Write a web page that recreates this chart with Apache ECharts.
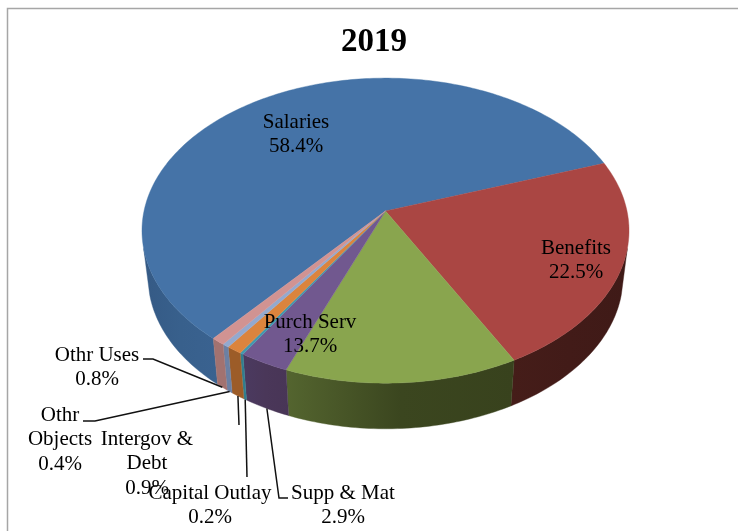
<!DOCTYPE html>
<html><head><meta charset="utf-8">
<style>html,body{margin:0;padding:0;background:#fff}#c{width:738px;height:531px}</style>
<script src="https://cdn.jsdelivr.net/npm/echarts@6/dist/echarts.min.js"></script>
</head><body><div id="c"></div>
<script>
var categories = ["Salaries","Benefits","Purch Serv","Supp & Mat","Capital Outlay","Intergov &\nDebt","Othr\nObjects","Othr Uses"];
var shares = [58.4,22.5,13.7,2.9,0.2,0.9,0.4,0.8];
var topColors = ["#4573a7","#aa4643","#89a54e","#71588f","#4198af","#db843d","#93a9cf","#d19392"];
var wallLeft  = ["#355a85","#451d19","#54652f","#4b3a60","#2f7f90","#9c5c28","#6c80a3","#a27270"];
var wallMid   = ["#38608c","#421b18","#3b461f","#4a3759","#2f7f90","#9c5c28","#6c80a3","#a27270"];
var wallRight = ["#3a6290","#3f1a17","#38421d","#483556","#2f7f90","#9c5c28","#6c80a3","#a27270"];
// label centre x, first-line y; leader elbows (after the slice anchor)
var labelPlaces = [[296,122],[576,248],[310,322],[343,493],[210,493],[147,439],[60,415],[97,355]];
var leaderElbows = [null,null,null,[[279,498],[288,498]],[[247,477]],[[239,425]],[[95,421],[83,421]],[[153,359],[143,359]]];

var FIRST_ANGLE = 130, CX = 385.5, CY = 211, RX = 241.5, RY = 150, K = 0.1287;
var DEPTH_CY = 257.5, DEPTH_SX = 0.975, DEPTH_SY = 0.995, WALL_FROM = 14, WALL_TO = 166, STEP = 1;
var total = shares.reduce(function(a,b){return a+b;},0);
var rad = Math.PI/180;

function sliceRange(i){
  var a = FIRST_ANGLE;
  for (var j=0;j<i;j++) a += shares[j]/total*360;
  return [a, a + shares[i]/total*360];
}
function rim(deg, bottom){
  var u=Math.cos(deg*rad), v=Math.sin(deg*rad), w=1-K*v;
  var X=RX*u/w, Y=RY*v/w;
  return bottom ? [CX+X*DEPTH_SX, DEPTH_CY+Y*DEPTH_SY] : [CX+X, CY+Y];
}
function arc(a,b,bottom){
  var pts=[], n=Math.max(1,Math.ceil((b-a)/STEP));
  for (var i=0;i<=n;i++) pts.push(rim(a+(b-a)*i/n,bottom));
  return pts;
}
function renderWall(params){
  var i=params.dataIndex, r=sliceRange(i), kids=[];
  [0,360].forEach(function(off){
    var a=Math.max(r[0],WALL_FROM+off), b=Math.min(r[1],WALL_TO+off);
    if (b<=a) return;
    var pts=arc(a,b,false).concat(arc(a,b,true).reverse());
    var fill=new echarts.graphic.LinearGradient(0,0,1,0,[{offset:0,color:wallLeft[i]},{offset:0.5,color:wallMid[i]},{offset:1,color:wallRight[i]}]);
    kids.push({type:'polygon',shape:{points:pts},style:{fill:fill,stroke:fill,lineWidth:0.4}});
  });
  return {type:'group',children:kids};
}
function renderTop(params){
  var i=params.dataIndex, r=sliceRange(i);
  var pts=[[CX,CY]].concat(arc(r[0],r[1],false));
  return {type:'polygon',shape:{points:pts},style:{fill:topColors[i],stroke:topColors[i],lineWidth:0.4}};
}
function renderLabel(params,api){
  var i=params.dataIndex, r=sliceRange(i), kids=[];
  if (leaderElbows[i]){
    var pts=[rim((r[0]+r[1])/2,true)].concat(leaderElbows[i]);
    kids.push({type:'polyline',shape:{points:pts},style:{fill:null,stroke:'#111',lineWidth:1.5}});
  }
  kids.push({type:'text',x:labelPlaces[i][0],y:labelPlaces[i][1]-12,style:{
    text:categories[i]+"\n"+api.value(0).toFixed(1)+"%",
    fontSize:21,fontFamily:'Liberation Serif',lineHeight:24.5,
    align:'center',verticalAlign:'top',fill:'#000'}});
  return {type:'group',children:kids};
}
var rows = shares.map(function(s){return [s];});
var chart = echarts.init(document.getElementById('c'),null,{renderer:'canvas'});
chart.setOption({
  animation:false,
  backgroundColor:'#fff',
  title:{text:'2019',left:341,top:26,
    textStyle:{fontFamily:'Liberation Serif',fontWeight:'bold',fontSize:33,color:'#000'},padding:0},
  graphic:[{type:'polyline',silent:true,shape:{points:[[7.5,531],[7.5,8.5],[738,8.5]]},
    style:{fill:null,stroke:'#a6a6a6',lineWidth:1.5}}],
  series:[
    {type:'custom',coordinateSystem:'none',z:2,silent:true,data:rows,renderItem:renderWall},
    {type:'custom',coordinateSystem:'none',z:3,silent:true,data:rows,renderItem:renderTop},
    {type:'custom',coordinateSystem:'none',z:4,silent:true,data:rows,renderItem:renderLabel}
  ]
});
</script></body></html>
